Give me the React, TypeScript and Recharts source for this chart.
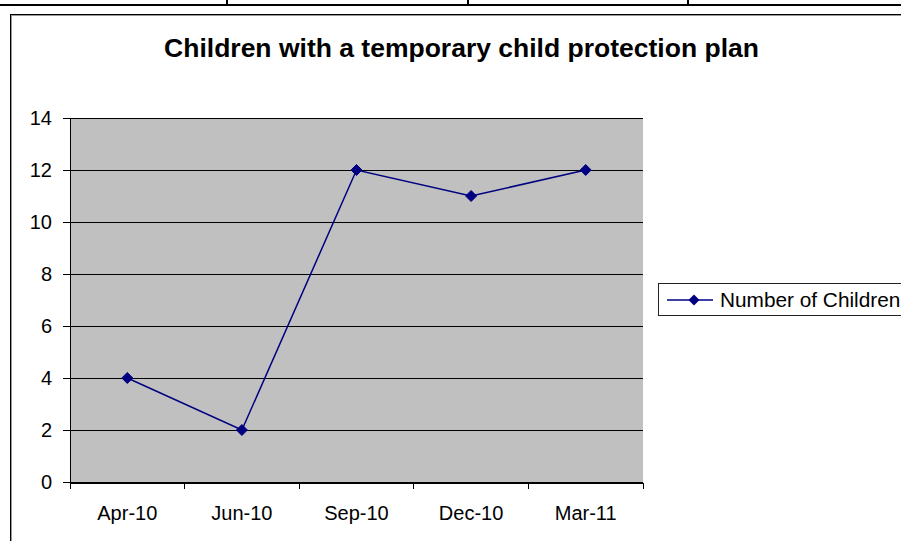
import React from "react";
import { LineChart, Line, XAxis, YAxis, CartesianGrid } from "recharts";

const MONTHS = ["Apr-10", "Jun-10", "Sep-10", "Dec-10", "Mar-11"];
const CHILDREN = [4, 2, 12, 11, 12];
const Y_TICKS = [0, 2, 4, 6, 8, 10, 12, 14];
const TITLE = "Children with a temporary child protection plan";
const SERIES_NAME = "Number of Children";

const FONT = '"Liberation Sans", Arial, sans-serif';
const NAVY = "#000080";

// each month sits in the middle of its band, tick marks go on the band edges
const data = MONTHS.map((month, i) => ({ month, pos: i + 0.5, value: CHILDREN[i] }));
const bandEdges = [0, ...MONTHS.map((_, i) => i + 1)];

function Diamond(props: any) {
  const { cx, cy, index } = props;
  if (cx == null || cy == null) return <g key={`d-${index}`} />;
  const r = 5.5;
  return (
    <polygon
      key={`d-${index}`}
      points={`${cx},${cy - r} ${cx + r},${cy} ${cx},${cy + r} ${cx - r},${cy}`}
      fill={NAVY}
      stroke={NAVY}
    />
  );
}

// tick marks only, no label
const NoLabel = () => <g />;

function LegendBox() {
  return (
    <div
      style={{
        position: "absolute",
        left: 658,
        top: 283,
        width: 270,
        height: 33,
        border: "1px solid #222",
        background: "#fff",
        display: "flex",
        alignItems: "center",
        fontSize: 20.8,
        color: "#000",
        boxSizing: "border-box",
      }}
    >
      <svg width={61} height={20} style={{ flex: "none" }}>
        <line x1={8} y1={10} x2={54} y2={10} stroke={NAVY} strokeWidth={1.5} />
        <polygon points="35,4.5 40.5,10 35,15.5 29.5,10" fill={NAVY} />
      </svg>
      <span style={{ whiteSpace: "nowrap" }}>{SERIES_NAME}</span>
    </div>
  );
}

const tickStyle = { fill: "#000", fontSize: 20, fontFamily: FONT };

export default function App() {
  return (
    <div
      style={{
        position: "absolute",
        left: 0,
        top: 0,
        width: 901,
        height: 541,
        overflow: "hidden",
        background: "#fff",
        fontFamily: FONT,
      }}
    >
      {/* table rule above the chart */}
      <div style={{ position: "absolute", left: 0, top: 4, width: 901, height: 2, background: "#000" }} />
      {[226, 467, 687].map((x) => (
        <div key={x} style={{ position: "absolute", left: x, top: 0, width: 2, height: 5, background: "#000" }} />
      ))}
      {/* chart frame */}
      <div
        style={{
          position: "absolute",
          left: 10,
          top: 14,
          width: 1000,
          height: 600,
          borderLeft: "1px solid #000",
          borderTop: "1px solid #000",
          boxShadow: "inset 1px 1px 0 #999",
        }}
      />
      <div
        style={{
          position: "absolute",
          left: 10,
          width: 903,
          top: 33,
          textAlign: "center",
          fontWeight: "bold",
          fontSize: 26.5,
          color: "#000",
        }}
      >
        {TITLE}
      </div>
      <div style={{ position: "absolute", left: 0, top: 0 }}>
        <LineChart
          width={901}
          height={541}
          data={data}
          margin={{ top: 118, right: 258, bottom: 57, left: 10 }}
          style={{ fontFamily: FONT, fontSize: 20 }}
        >
          <CartesianGrid
            xAxisId="cat"
            yAxisId="left"
            vertical={false}
            fill="#C0C0C0"
            fillOpacity={1}
            stroke="#000"
            shapeRendering="crispEdges"
          />
          <XAxis
            xAxisId="edges"
            dataKey="pos"
            type="number"
            domain={[0, MONTHS.length]}
            allowDataOverflow
            ticks={bandEdges}
            interval={0}
            height={1}
            tick={NoLabel}
            tickSize={6}
            axisLine={{ stroke: "#000", shapeRendering: "crispEdges" }}
            tickLine={{ stroke: "#000", shapeRendering: "crispEdges" }}
          />
          <XAxis
            xAxisId="cat"
            dataKey="pos"
            type="number"
            domain={[0, MONTHS.length]}
            allowDataOverflow
            ticks={data.map((d) => d.pos)}
            interval={0}
            height={1}
            tickFormatter={(v: number) => MONTHS[Math.floor(v)]}
            axisLine={false}
            tickLine={false}
            tickSize={6}
            tickMargin={18}
            tick={tickStyle}
          />
          <YAxis
            yAxisId="left"
            domain={[0, 14]}
            ticks={Y_TICKS}
            interval={0}
            width={60}
            tickSize={7}
            tickMargin={11}
            axisLine={{ stroke: "#000", shapeRendering: "crispEdges" }}
            tickLine={{ stroke: "#000", shapeRendering: "crispEdges" }}
            tick={tickStyle}
          />
          <YAxis
            yAxisId="right"
            orientation="right"
            width={0}
            tick={false}
            tickLine={false}
            axisLine={{ stroke: "#808080", shapeRendering: "crispEdges" }}
          />
          <Line
            xAxisId="cat"
            yAxisId="left"
            dataKey="value"
            name={SERIES_NAME}
            stroke={NAVY}
            strokeWidth={1.5}
            dot={Diamond}
            activeDot={false}
            isAnimationActive={false}
          />
        </LineChart>
      </div>
      <LegendBox />
    </div>
  );
}
